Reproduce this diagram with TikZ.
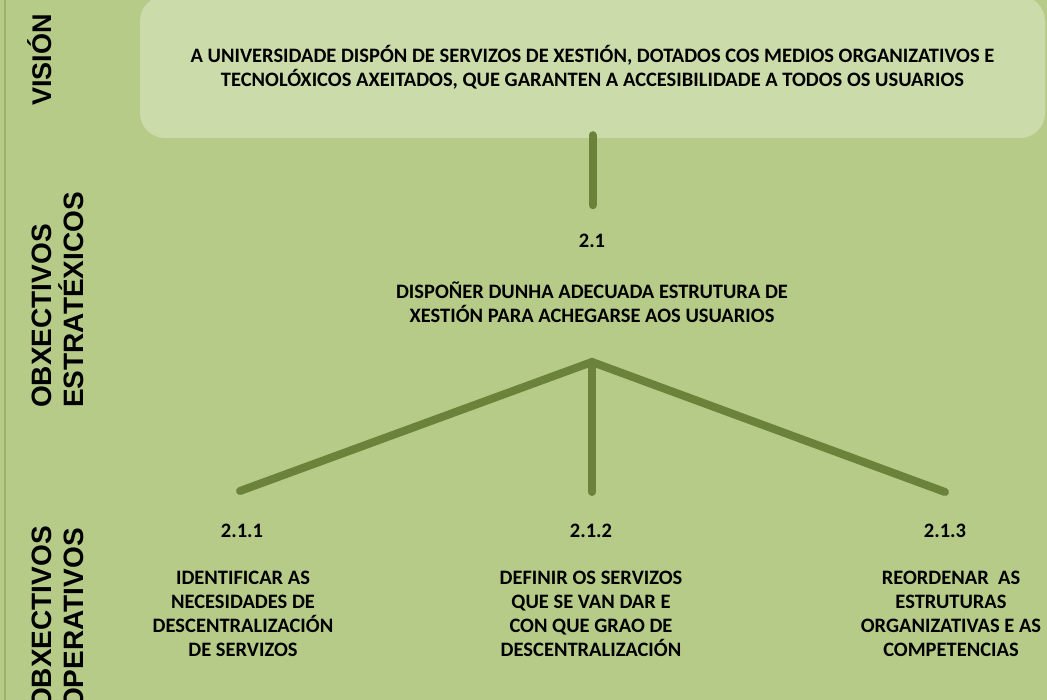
\documentclass[tikz,border=0pt]{standalone}
\usepackage{fontspec}
\setmainfont{Carlito}
\newfontfamily\labelfont{Liberation Sans}
\definecolor{bggreen}{HTML}{B7CB89}
\definecolor{boxgreen}{HTML}{CCDBAA}
\definecolor{linegreen}{HTML}{6A823A}
\definecolor{edgegreen}{HTML}{9AB26A}
\begin{document}
\begin{tikzpicture}[x=1pt,y=-1pt,
	txt/.style={align=center,font=\bfseries\fontsize{20.5}{24}\selectfont,inner sep=0},
	side/.style={rotate=90,align=left,font=\labelfont\bfseries\fontsize{28}{31.5}\selectfont,inner sep=0},
	branch/.style={line width=8pt,line cap=round,draw=linegreen}]
	\useasboundingbox (0,0) rectangle (1047,700);
	\fill[bggreen] (0,0) rectangle (1047,700);
	\draw[edgegreen,line width=1.5pt] (5,0) -- (5,700);
	\node[txt,fill=boxgreen,rounded corners=25pt,minimum width=905pt,minimum height=142pt] (vision) at (592.5,67) {A UNIVERSIDADE DISPÓN DE SERVIZOS DE XESTIÓN, DOTADOS COS MEDIOS ORGANIZATIVOS E\\TECNOLÓXICOS AXEITADOS, QUE GARANTEN A ACCESIBILIDADE A TODOS OS USUARIOS};
	\node[side,font=\labelfont\bfseries\fontsize{27}{31.5}\selectfont] (visionlabel) at (40,60) {VISIÓN};
	\node[side,anchor=west] (strlabel) at (58,408) {OBXECTIVOS\\ESTRATÉXICOS};
	\node[side,anchor=west] (oplabel) at (58,710) {OBXECTIVOS\\OPERATIVOS};
	\node[txt] (s21) at (592,241) {2.1};
	\node[txt] (s21text) at (592,302) {DISPOÑER DUNHA ADECUADA ESTRUTURA DE\\XESTIÓN PARA ACHEGARSE AOS USUARIOS};
	\node[txt] (o211) at (242,531) {2.1.1};
	\node[txt] (o212) at (591,531) {2.1.2};
	\node[txt] (o213) at (945,531) {2.1.3};
	\node[txt] (o211text) at (243,614) {IDENTIFICAR AS\\NECESIDADES DE\\DESCENTRALIZACIÓN\\DE SERVIZOS};
	\node[txt] (o212text) at (591,614) {DEFINIR OS SERVIZOS\\QUE SE VAN DAR E\\CON QUE GRAO DE\\DESCENTRALIZACIÓN};
	\node[txt] (o213text) at (951,614) {REORDENAR\ \ AS\\ESTRUTURAS\\ORGANIZATIVAS E AS\\COMPETENCIAS};
	\coordinate (stem) at ([yshift=-67pt]vision.south);
	\coordinate (apex) at (592,362);
	\coordinate (end1) at (240,491);
	\coordinate (end2) at (592,492);
	\coordinate (end3) at (945,492);
	\draw[branch] ([yshift=3pt]vision.south) -- (stem);
	\draw[branch] (end1) -- (apex) -- (end3);
	\draw[branch] (apex) -- (end2);
\end{tikzpicture}
\end{document}
